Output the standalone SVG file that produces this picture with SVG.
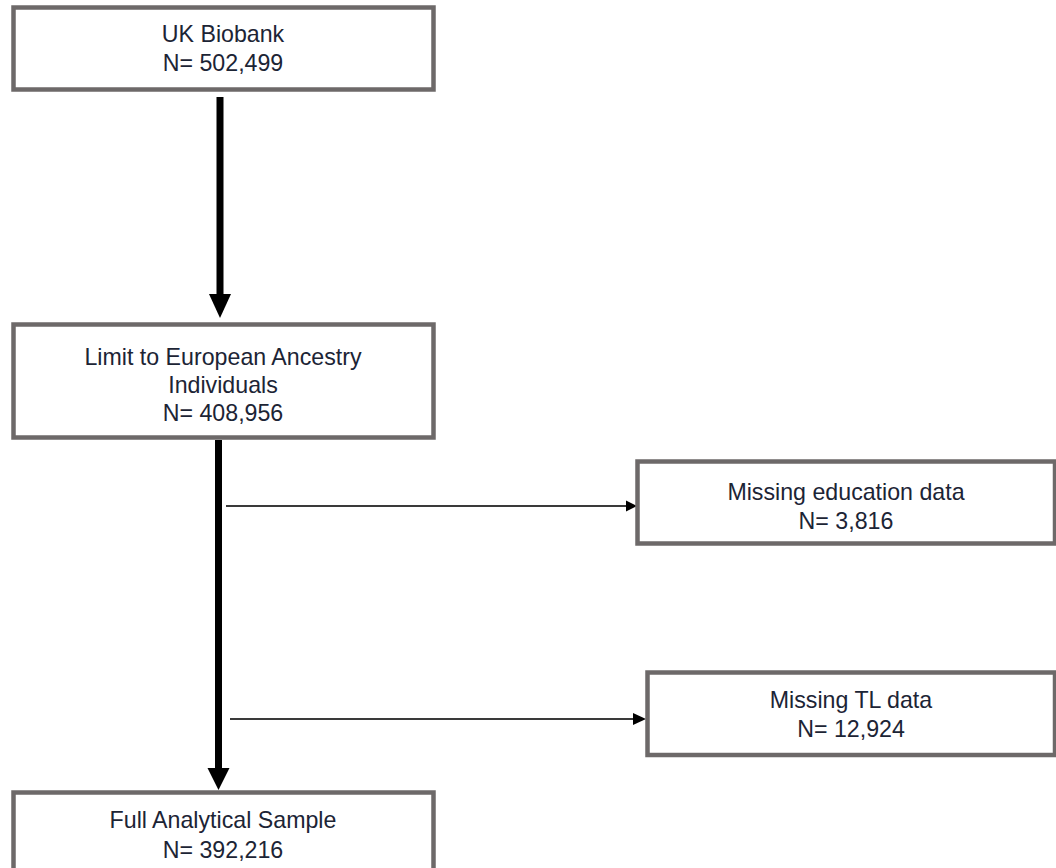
<svg xmlns="http://www.w3.org/2000/svg" width="1056" height="868" viewBox="0 0 1056 868">
<style>
.box{fill:#fff;stroke:#6d6969;stroke-width:4.5}
.t{font-family:"Liberation Sans",Arial,sans-serif;font-size:23.2px;fill:#1c2435;text-anchor:middle}
.thick{stroke:#000;stroke-width:7;fill:none}
.thin{stroke:#3a3a3a;stroke-width:2;fill:none}
.head{fill:#000}
</style>
<rect width="1056" height="868" fill="#fff"/>
<g id="connectors">
<line class="thick" x1="220" y1="97" x2="220" y2="298"/>
<polygon class="head" points="209,294 231,294 220,318"/>
<line class="thick" x1="218.5" y1="440" x2="218.5" y2="772"/>
<polygon class="head" points="207.5,768 229.5,768 218.5,790"/>
<line class="thin" x1="226" y1="506" x2="628" y2="506"/>
<polygon class="head" points="626,500.5 637,506 626,511.5"/>
<line class="thin" x1="230" y1="719" x2="635" y2="719"/>
<polygon class="head" points="633,713 646,719 633,725"/>
</g>
<g id="uk-biobank">
<rect class="box" x="13.5" y="7.5" width="420" height="82"/>
<text class="t" x="223" y="42">UK Biobank</text>
<text class="t" x="223" y="71">N= 502,499</text>
</g>
<g id="european">
<rect class="box" x="13.5" y="324.5" width="420" height="113"/>
<text class="t" x="223" y="365">Limit to European Ancestry</text>
<text class="t" x="223" y="393">Individuals</text>
<text class="t" x="223" y="421">N= 408,956</text>
</g>
<g id="missing-education">
<rect class="box" x="637.5" y="461.5" width="417.5" height="82"/>
<text class="t" x="846" y="500">Missing education data</text>
<text class="t" x="846" y="529">N= 3,816</text>
</g>
<g id="missing-tl">
<rect class="box" x="647.5" y="672.5" width="407.5" height="82.5"/>
<text class="t" x="851" y="708">Missing TL data</text>
<text class="t" x="851" y="737">N= 12,924</text>
</g>
<g id="full-sample">
<rect class="box" x="13.5" y="792.5" width="420" height="90"/>
<text class="t" x="223" y="828">Full Analytical Sample</text>
<text class="t" x="223" y="858">N= 392,216</text>
</g>
</svg>
